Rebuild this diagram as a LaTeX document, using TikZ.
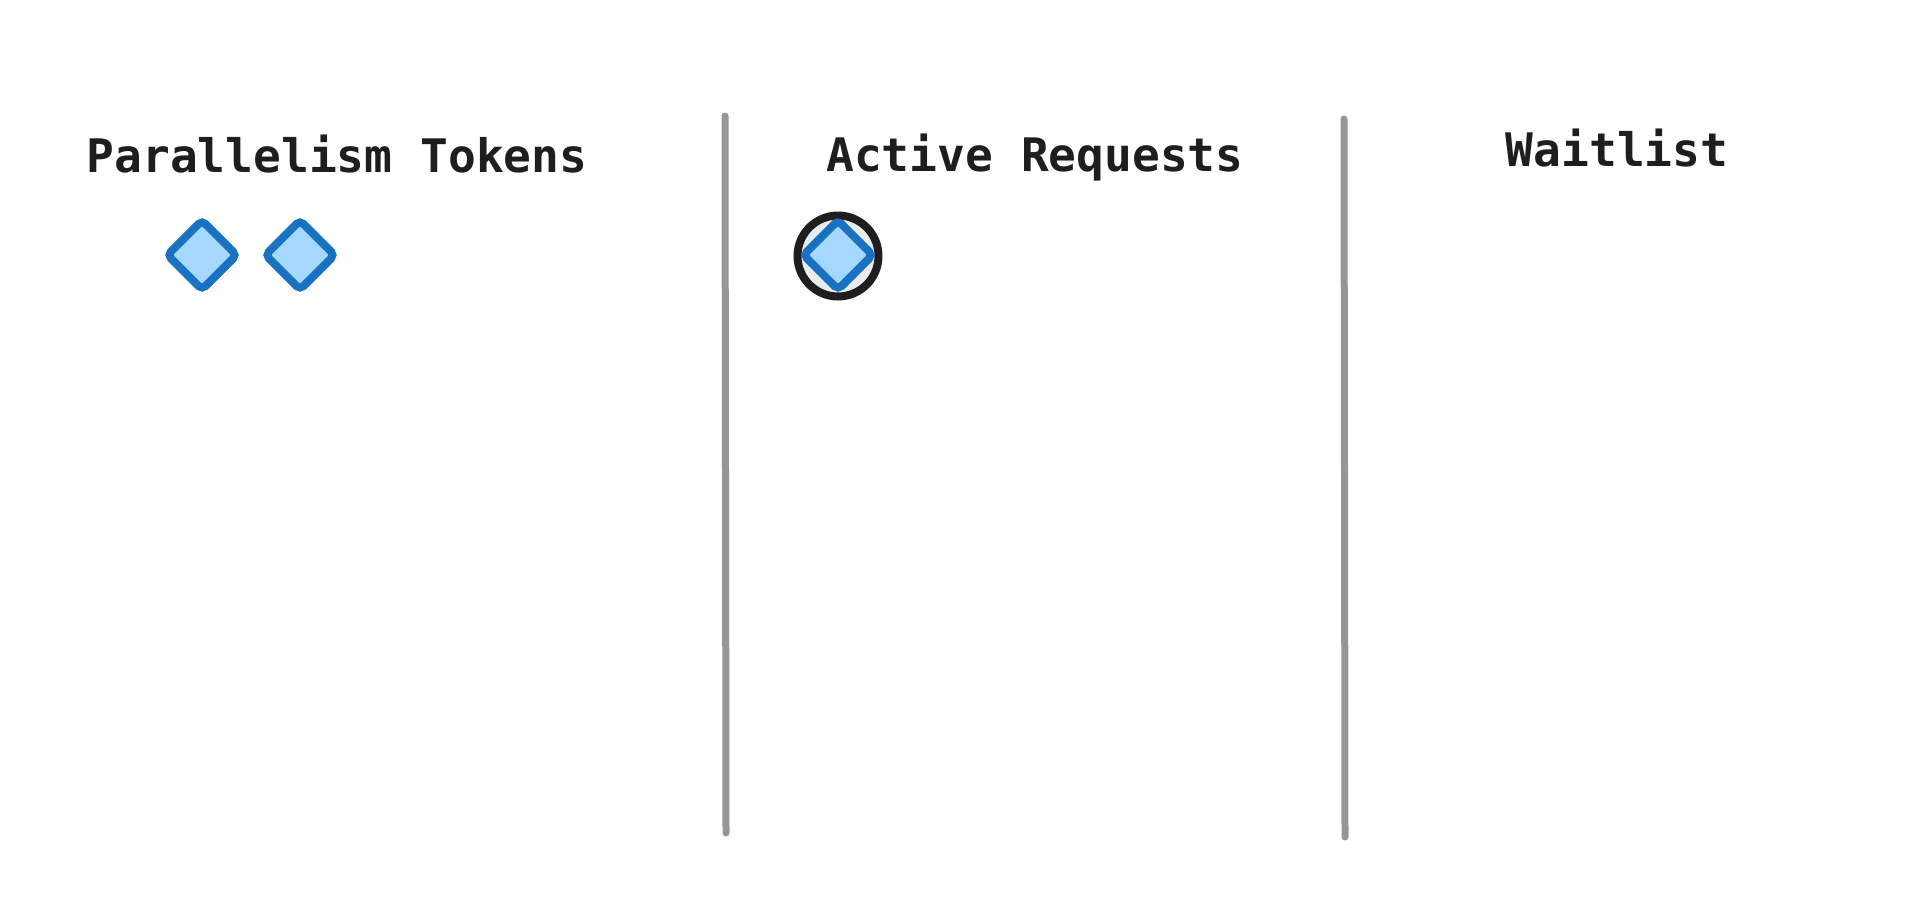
\documentclass[tikz,border=0pt]{standalone}
\usepackage{fontspec}
\setmainfont{DejaVu Sans Mono}
\usetikzlibrary{shapes.geometric}
\definecolor{tokenblue}{HTML}{1971C2}
\definecolor{tokenfill}{HTML}{A5D8FF}
\definecolor{requestfill}{HTML}{E9ECEF}
\definecolor{inkblack}{HTML}{1E1E1E}
\definecolor{dividergray}{HTML}{969696}

\begin{document}
\begin{tikzpicture}[x=0.02cm, y=-0.02cm,
    token/.style={diamond, draw=tokenblue, fill=tokenfill, line width=0.16cm, rounded corners=0.1cm, minimum size=1.45cm, inner sep=0pt},
    request/.style={circle, draw=inkblack, fill=requestfill, line width=0.16cm, minimum size=1.62cm, inner sep=0pt},
    heading/.style={anchor=base, text=inkblack, font=\fontsize{26.3}{30}\selectfont\bfseries},
    divider/.style={draw=dividergray, line width=0.14cm, line cap=round}]

    \useasboundingbox (0,0) rectangle (1920,923);

    % Column headings
    \node[heading] (tokens) at (337,172) {Parallelism Tokens};
    \node[heading] (active) at (1035,171) {Active Requests};
    \node[heading] (waitlist) at (1617,166) {Waitlist};

    % Column dividers
    \coordinate (div1top) at (725,116);
    \coordinate (div1bot) at (726,833);
    \coordinate (div2top) at (1344,119);
    \coordinate (div2bot) at (1345,837);
    \draw[divider] (div1top) -- (div1bot);
    \draw[divider] (div2top) -- (div2bot);

    % Free tokens
    \node[token] (tok1) at (202,255) {};
    \node[token] (tok2) at (300,255) {};

    % Request holding a token
    \node[request] (req1) at (838,256) {};
    \node[token] (tok3) at (838,255) {};

\end{tikzpicture}
\end{document}
